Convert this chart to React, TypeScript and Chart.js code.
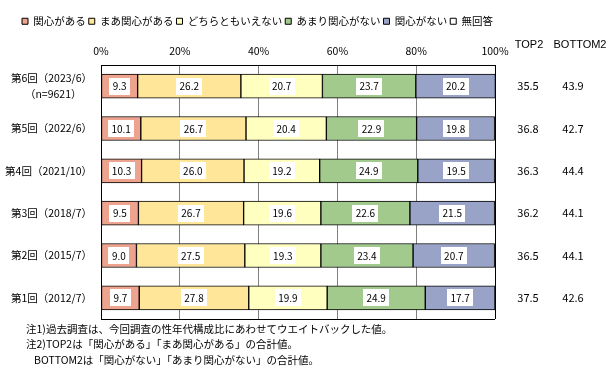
import React, { useEffect, useRef } from 'react';
import { Chart, registerables } from 'chart.js';

Chart.register(...registerables);

const categories: (string | string[])[] = [
  ['第6回（2023/6）', '（n=9621）\u3000\u2002'],
  '第5回（2022/6）',
  '第4回（2021/10）',
  '第3回（2018/7）',
  '第2回（2015/7）',
  '第1回（2012/7）',
];
const seriesNames = ['関心がある', 'まあ関心がある', 'どちらともいえない', 'あまり関心がない', '関心がない', '無回答'];
const seriesColors = ['#EDA38D', '#FFE699', '#FFFFC0', '#A1CA8C', '#99A3C8', '#FFFFFF'];

const interested = [9.3, 10.1, 10.3, 9.5, 9.0, 9.7];
const somewhatInterested = [26.2, 26.7, 26.0, 26.7, 27.5, 27.8];
const neutral = [20.7, 20.4, 19.2, 19.6, 19.3, 19.9];
const notVeryInterested = [23.7, 22.9, 24.9, 22.6, 23.4, 24.9];
const notInterested = [20.2, 19.8, 19.5, 21.5, 20.7, 17.7];
const noAnswer: (number | null)[] = [null, null, null, null, null, null];

const top2 = [35.5, 36.8, 36.3, 36.2, 36.5, 37.5];
const bottom2 = [43.9, 42.7, 44.4, 44.1, 44.1, 42.6];
const summaryHeaders = ['TOP2', 'BOTTOM2'];

const xMin = 0;
const xMax = 100;
const xStep = 20;

const notes = [
  '注1)過去調査は、今回調査の性年代構成比にあわせてウエイトバックした値。',
  '注2)TOP2は「関心がある」「まあ関心がある」の合計値。',
  'BOTTOM2は「関心がない」「あまり関心がない」の合計値。',
];

const JP = "'Noto Sans CJK JP', 'Noto Sans', sans-serif";

const extrasPlugin = {
  id: 'extras',
  afterLayout(chart: any) {
    const lg = chart.legend;
    if (lg) {
      lg.left += 19;
      lg.right += 19;
    }
  },
  afterDatasetsDraw(chart: any) {
    const ctx = chart.ctx as CanvasRenderingContext2D;
    const { left, right, bottom } = chart.chartArea;
    ctx.save();
    ctx.strokeStyle = '#000';
    ctx.lineWidth = 1;
    const yb = Math.round(bottom) + 0.5;
    ctx.beginPath();
    ctx.moveTo(left, yb);
    ctx.lineTo(right, yb);
    ctx.stroke();

    // data labels
    ctx.font = `10px ${JP}`;
    ctx.textAlign = 'center';
    ctx.textBaseline = 'middle';
    for (let di = 0; di < 5; di++) {
      const meta = chart.getDatasetMeta(di);
      const data = chart.data.datasets[di].data;
      meta.data.forEach((bar: any, i: number) => {
        const v = data[i];
        if (v == null) return;
        const txt = Number(v).toFixed(1);
        const cx = (bar.x + bar.base) / 2;
        const cy = bar.y;
        const w = Math.round(ctx.measureText(txt).width + 7);
        const h = 17;
        ctx.fillStyle = '#fff';
        ctx.fillRect(Math.round(cx - w / 2), Math.round(cy - h / 2), w, h);
        ctx.fillStyle = '#000';
        ctx.fillText(txt, cx, cy + 0.5);
      });
    }

    // summary columns
    const yScale = chart.scales.y;
    ctx.font = `11px 'Liberation Sans', Arial, sans-serif`;
    ctx.fillStyle = '#000';
    ctx.fillText(summaryHeaders[0], 529, 45);
    ctx.fillText(summaryHeaders[1], 580, 45);
    ctx.font = `11px ${JP}`;
    top2.forEach((v, i) => {
      const y = yScale.getPixelForValue(i);
      ctx.fillText(v.toFixed(1), 528, y);
      ctx.fillText(bottom2[i].toFixed(1), 573, y);
    });

    // notes
    ctx.textAlign = 'left';
    ctx.font = `10.5px ${JP}`;
    ctx.fillText(notes[0], 26, 329);
    ctx.fillText(notes[1], 26, 344.5);
    ctx.fillText(notes[2], 34, 360);
    ctx.restore();
  },
};

export default function App() {
  const ref = useRef<HTMLCanvasElement | null>(null);

  useEffect(() => {
    if (!ref.current) return;
    Chart.defaults.font.family = JP;
    Chart.defaults.color = '#000';
    const seriesData = [interested, somewhatInterested, neutral, notVeryInterested, notInterested, noAnswer];
    const chart = new Chart(ref.current, {
      type: 'bar',
      data: {
        labels: categories,
        datasets: seriesNames.map((name, i) => ({
          label: name,
          data: seriesData[i],
          backgroundColor: seriesColors[i],
          borderColor: '#000',
          borderWidth: 1,
          borderSkipped: false,
          barThickness: 24,
        })),
      },
      options: {
        indexAxis: 'y',
        responsive: false,
        animation: false,
        layout: { padding: { left: 0, top: 13, right: 0, bottom: 68 } },
        plugins: {
          legend: {
            position: 'top',
            align: 'start',
            labels: {
              boxWidth: 6,
              boxHeight: 6,
              padding: 3,
              font: { size: 10.5, family: JP },
              color: '#000',
            },
          },
          tooltip: { enabled: false },
          title: { display: false },
        },
        scales: {
          x: {
            type: 'linear',
            position: 'top',
            stacked: true,
            min: xMin,
            max: xMax,
            ticks: {
              stepSize: xStep,
              padding: 8,
              color: '#000',
              font: { size: 10.5, family: JP },
              callback: (v: any) => `${v}%`,
            },
            grid: {
              drawTicks: false,
              color: (c: any) =>
                c.tick && (c.tick.value === xMin || c.tick.value === xMax) ? '#000' : '#808080',
            },
            border: { display: true, color: '#000' },
            afterFit: (s: any) => {
              s.height = 28.5;
            },
          },
          y: {
            type: 'category',
            stacked: true,
            position: 'left',
            ticks: {
              padding: 9,
              color: '#000',
              font: { size: 10.5, family: JP, lineHeight: 1.5 },
            },
            grid: { display: false, drawTicks: false },
            border: { display: true, color: '#000' },
            afterFit: (s: any) => {
              s.width = 101;
            },
          },
          yRight: {
            type: 'category',
            position: 'right',
            display: true,
            ticks: { display: false },
            grid: { display: false, drawTicks: false },
            border: { display: false },
            afterFit: (s: any) => {
              s.width = 121;
            },
          },
        },
      },
      plugins: [extrasPlugin],
    } as any);
    return () => chart.destroy();
  }, []);

  return (
    <div style={{ position: 'absolute', left: 0, top: 0, width: 616, height: 387, background: '#fff' }}>
      <canvas ref={ref} width={616} height={387} style={{ width: 616, height: 387, display: 'block' }} />
    </div>
  );
}
